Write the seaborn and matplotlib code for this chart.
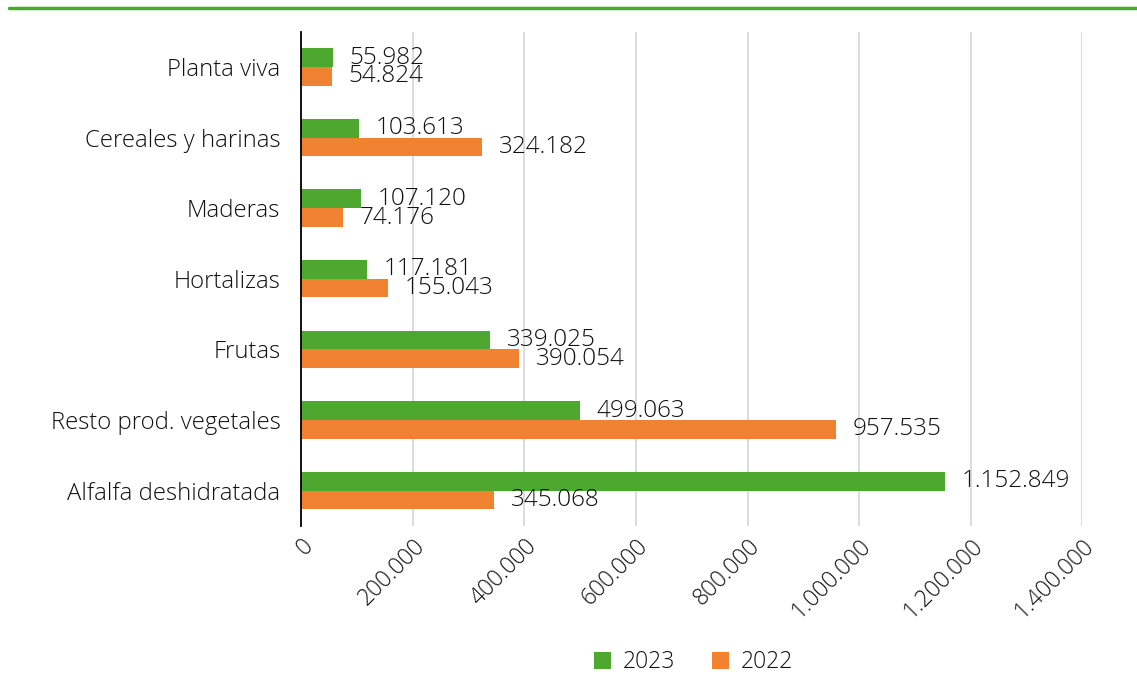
import pandas as pd
import matplotlib.pyplot as plt
import seaborn as sns
from matplotlib.lines import Line2D
from matplotlib.ticker import FuncFormatter

# Datos
categorias = ['Planta viva', 'Cereales y harinas', 'Maderas', 'Hortalizas',
              'Frutas', 'Resto prod. vegetales', 'Alfalfa deshidratada']
valores_2023 = [55982, 103613, 107120, 117181, 339025, 499063, 1152849]
valores_2022 = [54824, 324182, 74176, 155043, 390054, 957535, 345068]
anios = ['2023', '2022']
colores = {'2023': '#4EA72E', '2022': '#F08232'}


def miles(v):
    return f'{v:,.0f}'.replace(',', '.')


def main():
    df = pd.concat([
        pd.DataFrame({'Categoria': categorias, 'Valor': valores_2023, 'Año': '2023'}),
        pd.DataFrame({'Categoria': categorias, 'Valor': valores_2022, 'Año': '2022'}),
    ])

    sns.set_theme(style='white')
    plt.rcParams['font.family'] = ['Open Sans', 'DejaVu Sans']
    plt.rcParams['font.weight'] = 'light'

    fig = plt.figure(figsize=(11.37, 6.75), dpi=100)
    ax = fig.add_axes([0.265, 0.221, 0.687, 0.732])

    sns.barplot(data=df, y='Categoria', x='Valor', hue='Año', hue_order=anios,
                order=categorias, palette=colores, width=0.53, ax=ax,
                saturation=1, linewidth=0, legend=True)

    ax.set_xlim(0, 1400000)
    ax.set_xticks(range(0, 1400001, 200000))
    ax.xaxis.set_major_formatter(FuncFormatter(lambda v, p: miles(v)))
    ax.grid(axis='x', color='#D9D9D9', linewidth=1.3)
    ax.set_axisbelow(True)
    for s in ['top', 'right', 'bottom']:
        ax.spines[s].set_visible(False)
    ax.spines['left'].set_color('black')
    ax.spines['left'].set_linewidth(1.3)
    ax.tick_params(length=0, labelsize=16.5, labelcolor='#111111')
    ax.tick_params(axis='y', pad=15, labelsize=17.2)
    ax.tick_params(axis='x', pad=6)
    for lab in ax.get_xticklabels():
        lab.set_rotation(45)
        lab.set_ha('right')
        lab.set_rotation_mode('anchor')
    ax.set_xlabel('')
    ax.set_ylabel('')

    # Etiquetas de valor
    for cont in ax.containers:
        ax.bar_label(cont, labels=[miles(b.get_width()) for b in cont],
                     padding=12, fontsize=17.5, color='#111111')

    handles, labels = ax.get_legend_handles_labels()
    ax.legend_.remove()
    fig.legend(handles, labels, loc='center', bbox_to_anchor=(0.61, 0.019),
               ncol=2, frameon=False, fontsize=16.5, handlelength=0.75,
               handleheight=0.75, columnspacing=1.6, handletextpad=0.5,
               labelcolor='#111111')

    # Línea verde superior
    fig.add_artist(Line2D([0.008, 1.0], [0.988, 0.988], color='#4EA72E',
                          linewidth=2.5, transform=fig.transFigure))

    fig.savefig('out.png', dpi=100)


if __name__ == '__main__':
    main()
